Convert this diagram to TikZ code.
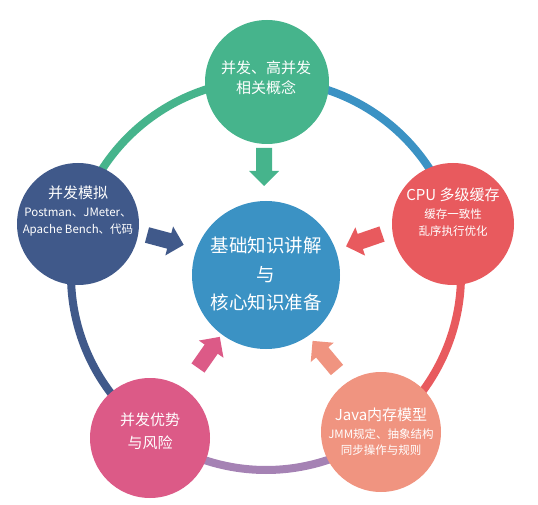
\documentclass[tikz,border=0pt]{standalone}
\usepackage{fontspec}
\setmainfont{Noto Sans CJK SC}
\definecolor{cgreen}{HTML}{46B48C}
\definecolor{cblue}{HTML}{3B92C4}
\definecolor{cnavy}{HTML}{40598A}
\definecolor{cred}{HTML}{E85A5E}
\definecolor{cpink}{HTML}{DC5A87}
\definecolor{csalmon}{HTML}{F09480}
\definecolor{cpurple}{HTML}{A582B4}
\begin{document}
\begin{tikzpicture}[x=1pt,y=1pt,
  disc/.style={circle,inner sep=0pt,draw=none},
  ringarc/.style={line width=8pt},
  txt/.style={text=white,align=center,inner sep=0pt},
  tbig/.style={font=\fontsize{15}{20}\selectfont},
  tsmall/.style={font=\fontsize{11.5}{17}\selectfont},
  tcenter/.style={font=\fontsize{18.5}{28.5}\selectfont},
  barrow/.pic={\fill (0,-8) -- (23,-8) -- (23,-15) -- (38,0) -- (23,15) -- (23,8) -- (0,8) -- cycle;}
]
\useasboundingbox (0,0) rectangle (538,-505);
\coordinate (o) at (266,-275);
% ring arcs
\draw[ringarc,cgreen]  ([shift={(90:195)}]o) arc[start angle=90,end angle=165,radius=195];
\draw[ringarc,cblue]   ([shift={(15:195)}]o) arc[start angle=15,end angle=90,radius=195];
\draw[ringarc,cred]    ([shift={(-54:195)}]o) arc[start angle=-54,end angle=15,radius=195];
\draw[ringarc,cpurple] ([shift={(-126:195)}]o) arc[start angle=-126,end angle=-54,radius=195];
\draw[ringarc,cnavy]   ([shift={(165:195)}]o) arc[start angle=165,end angle=234,radius=195];
% circles
\node[disc,fill=cblue,minimum size=148pt] (center) at (o) {};
\node[disc,fill=cgreen,minimum size=124pt] (top) at (267,-82) {};
\node[disc,fill=cred,minimum size=122pt] (right) at (453,-224) {};
\node[disc,fill=csalmon,minimum size=120pt] (br) at (381,-432) {};
\node[disc,fill=cpink,minimum size=120pt] (bl) at (150,-438) {};
\node[disc,fill=cnavy,minimum size=122pt] (left) at (78,-224) {};
% texts
\node[txt,tcenter] (tcenter) at (266,-274) {基础知识讲解\\与\\核心知识准备};
\node[txt,tbig] (ttop) at (266,-78) {并发、高并发\\相关概念};
\node[txt,tbig] (tleft) at (78,-193) {并发模拟};
\node[txt,tsmall] (sleft) at (78,-222.5) {Postman、JMeter、\\Apache Bench、代码};
\node[txt,tbig] (tright) at (453,-195) {CPU 多级缓存};
\node[txt,tsmall] (sright) at (453,-222.5) {缓存一致性\\乱序执行优化};
\node[txt,font=\fontsize{15}{23}\selectfont] (tbl) at (150,-431.5) {并发优势\\与风险};
\node[txt,tbig] (tbr) at (381,-415) {Java内存模型};
\node[txt,font=\fontsize{11.5}{16}\selectfont] (sbr) at (381,-442) {JMM规定、抽象结构\\同步操作与规则};
% block arrows
\pic[color=cgreen,rotate=270] at (264,-148) {barrow};
\pic[color=cnavy,rotate=-15] at (147,-235) {barrow};
\pic[color=cred,rotate=199] at (382,-234) {barrow};
\pic[color=cpink,rotate=55] at (198,-368) {barrow};
\pic[color=csalmon,rotate=130] at (337,-370) {barrow};
\end{tikzpicture}
\end{document}
